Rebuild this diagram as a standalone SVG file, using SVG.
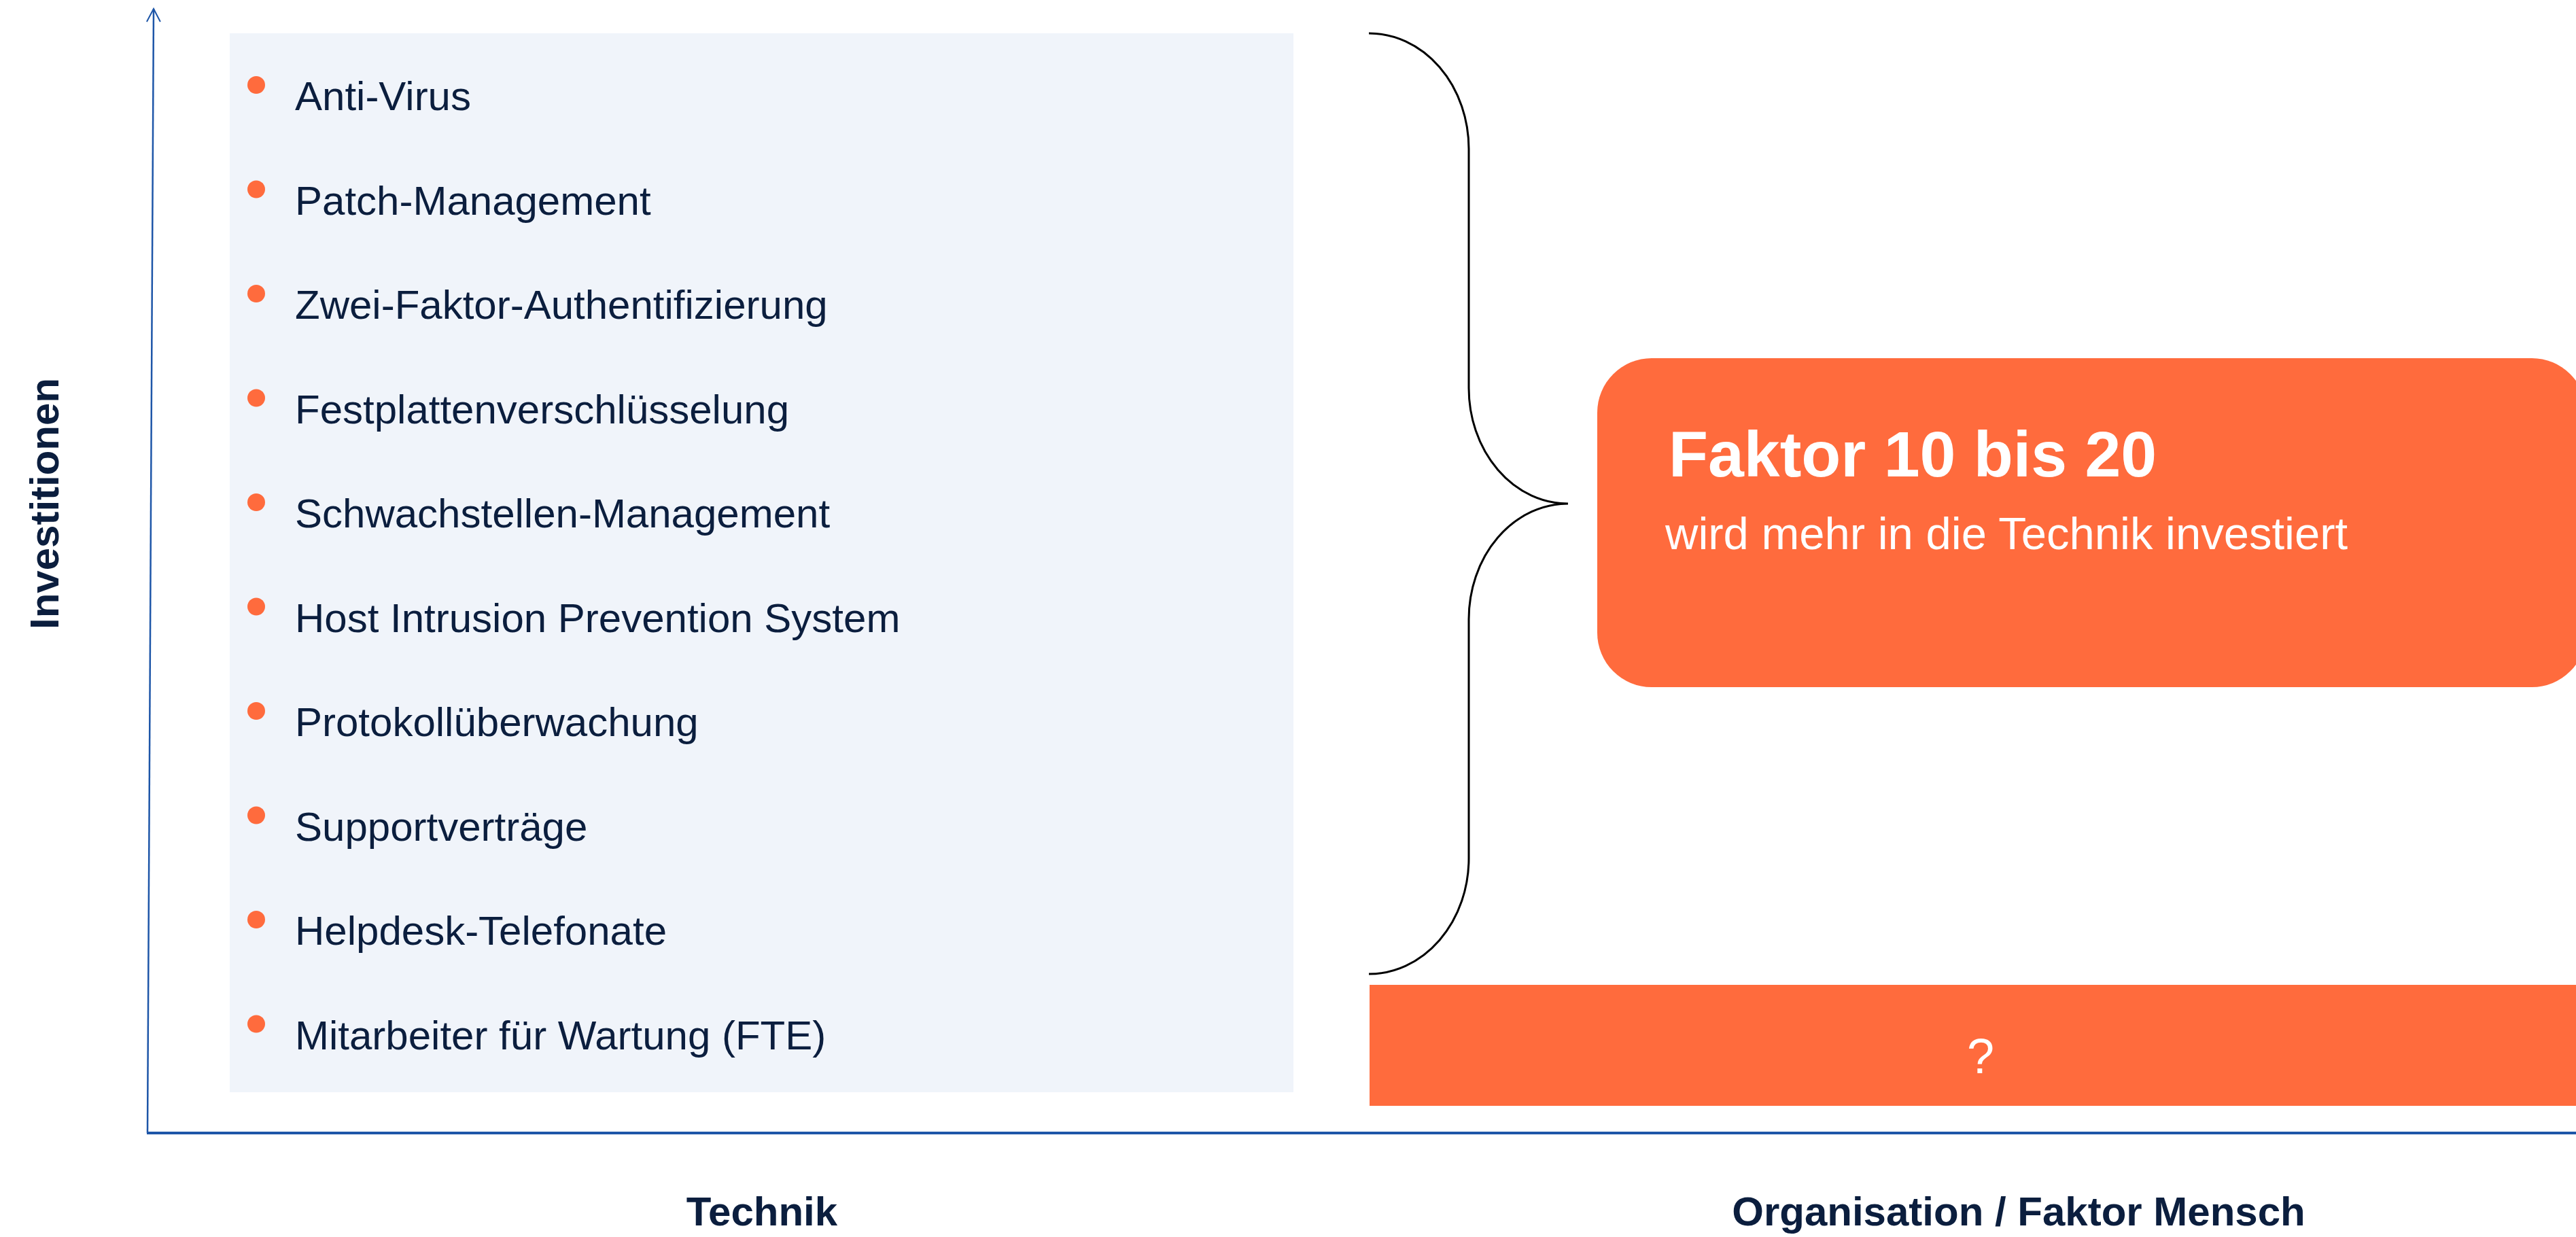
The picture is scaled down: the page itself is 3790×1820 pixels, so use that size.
<svg xmlns="http://www.w3.org/2000/svg" width="3790" height="1820" viewBox="0 0 3790 1820">
<style>
.item{font-family:"Liberation Sans",Arial,sans-serif;font-size:60px;fill:#0B1E3E}
.bullet{fill:#FF6B3D}
.axislbl{font-family:"Liberation Sans",Arial,sans-serif;font-size:60px;font-weight:bold;fill:#0B1E3E}
.axis{stroke:#1E56A8;fill:none}
</style>
<defs>
<marker id="arr" viewBox="0 0 24 24" refX="20" refY="12" markerWidth="24" markerHeight="24" markerUnits="userSpaceOnUse" orient="auto">
<path d="M1,2 L20,12 L1,22" fill="none" stroke="#1E56A8" stroke-width="2"/>
</marker>
</defs>
<rect width="3790" height="1820" fill="#FFFFFF"/>
<g id="technik-box">
<rect x="338" y="49" width="1565" height="1558" fill="#F0F4FA"/>
<g>
<circle class="bullet" cx="377" cy="125" r="13"/><text class="item" x="434" y="162">Anti-Virus</text>
<circle class="bullet" cx="377" cy="278.5" r="13"/><text class="item" x="434" y="315.5">Patch-Management</text>
<circle class="bullet" cx="377" cy="432" r="13"/><text class="item" x="434" y="469">Zwei-Faktor-Authentifizierung</text>
<circle class="bullet" cx="377" cy="585.5" r="13"/><text class="item" x="434" y="622.5">Festplattenverschlüsselung</text>
<circle class="bullet" cx="377" cy="739" r="13"/><text class="item" x="434" y="776">Schwachstellen-Management</text>
<circle class="bullet" cx="377" cy="892.5" r="13"/><text class="item" x="434" y="929.5">Host Intrusion Prevention System</text>
<circle class="bullet" cx="377" cy="1046" r="13"/><text class="item" x="434" y="1083">Protokollüberwachung</text>
<circle class="bullet" cx="377" cy="1199.5" r="13"/><text class="item" x="434" y="1236.5">Supportverträge</text>
<circle class="bullet" cx="377" cy="1353" r="13"/><text class="item" x="434" y="1390">Helpdesk-Telefonate</text>
<circle class="bullet" cx="377" cy="1506.5" r="13"/><text class="item" x="434" y="1543.5">Mitarbeiter für Wartung (FTE)</text>
</g>
</g>
<g id="faktor-box">
<rect x="2350" y="527" width="1455" height="484" rx="80" ry="80" fill="#FF6B3D"/>
<text x="2455" y="701" font-family="Liberation Sans, Arial, sans-serif" font-size="95" font-weight="bold" fill="#FFFFFF">Faktor 10 bis 20</text>
<text x="2450" y="808" font-family="Liberation Sans, Arial, sans-serif" font-size="67" fill="#FFFFFF">wird mehr in die Technik investiert</text>
</g>
<g id="mensch-bar">
<rect x="2015" y="1449" width="1775" height="178" fill="#FF6B3D"/>
<text x="2914" y="1579" text-anchor="middle" font-family="Liberation Sans, Arial, sans-serif" font-size="72" fill="#FFFFFF">?</text>
</g>
<g id="connectors">
<path d="M2014,49 A147,170 0 0 1 2161,219 L2161,571 A146,170 0 0 0 2307,741 A146,170 0 0 0 2161,911 L2161,1263 A147,170 0 0 1 2014,1433" fill="none" stroke="#000000" stroke-width="3"/>
<line class="axis" x1="217" y1="1667" x2="226" y2="13" stroke-width="2.5" marker-end="url(#arr)"/>
<line class="axis" x1="216" y1="1667" x2="3790" y2="1667" stroke-width="4"/>
</g>
<g id="labels">
<text class="axislbl" x="1121" y="1803" text-anchor="middle">Technik</text>
<text class="axislbl" x="2970" y="1803" text-anchor="middle">Organisation / Faktor Mensch</text>
<text class="axislbl" transform="translate(86,741) rotate(-90)" text-anchor="middle">Investitionen</text>
</g>
</svg>
